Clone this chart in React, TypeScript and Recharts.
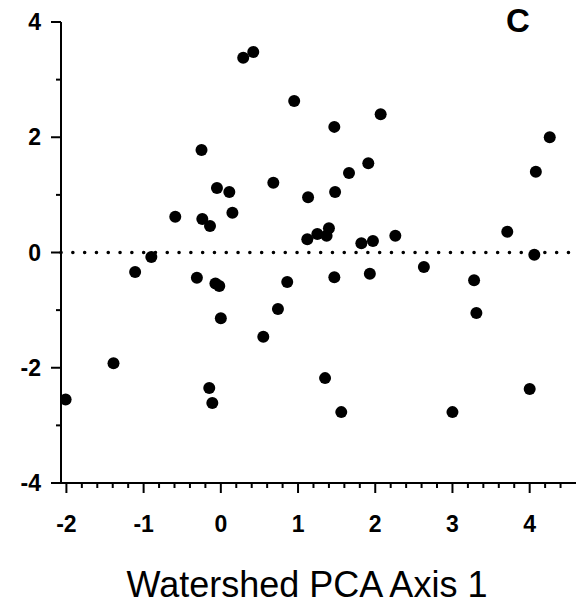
import React from 'react'
import { ScatterChart, Scatter, XAxis, YAxis, ReferenceLine } from 'recharts'

// PCA axis 1 (x) vs response (y)
const axis1 = [
  -2.01, -1.39, -1.11, -0.9, -0.59, -0.31, -0.25, -0.24, -0.14, -0.05,
  -0.07, -0.02, 0.0, 0.11, 0.15, -0.15, -0.11, 0.29, 0.42, 0.55,
  0.68, 0.74, 0.86, 0.95, 1.13, 1.12, 1.25, 1.37, 1.4, 1.47,
  1.48, 1.47, 1.35, 1.56, 1.66, 1.91, 1.82, 1.97, 1.93, 2.07,
  2.26, 2.63, 3.0, 3.28, 3.31, 3.71, 4.0, 4.06, 4.08, 4.26,
]
const values = [
  -2.55, -1.92, -0.34, -0.08, 0.62, -0.44, 1.78, 0.58, 0.46, 1.12,
  -0.54, -0.58, -1.14, 1.05, 0.69, -2.35, -2.61, 3.38, 3.48, -1.46,
  1.21, -0.98, -0.51, 2.63, 0.96, 0.23, 0.32, 0.29, 0.42, 2.18,
  1.05, -0.43, -2.18, -2.77, 1.38, 1.55, 0.16, 0.2, -0.37, 2.4,
  0.29, -0.25, -2.77, -0.48, -1.05, 0.36, -2.37, -0.04, 1.4, 2.0,
]

const xTicks = [
  -2, -1.8, -1.6, -1.4, -1.2, -1, -0.8, -0.6, -0.4, -0.2,
  0, 0.2, 0.4, 0.6, 0.8, 1, 1.2, 1.4, 1.6, 1.8,
  2, 2.2, 2.4, 2.6, 2.8, 3, 3.2, 3.4, 3.6, 3.8,
  4, 4.2, 4.4,
]
const yTicks = [-4, -3, -2, -1, 0, 1, 2, 3, 4]

const data = axis1.map((x, i) => ({ x, y: values[i] }))

const FONT = '"Liberation Sans", Arial, sans-serif'

const isWhole = (v: number) => Math.abs(v - Math.round(v)) < 1e-6

function XTick(props: any) {
  const { x, y, payload } = props
  const major = isWhole(payload.value)
  return (
    <g>
      <line x1={x} x2={x} y1={y} y2={y + (major ? 10 : 5)} stroke="#000" strokeWidth={2} />
      {major && (
        <text x={x} y={y + 49} textAnchor="middle" fontFamily={FONT} fontWeight="bold" fontSize={23} fill="#000">
          {Math.round(payload.value)}
        </text>
      )}
    </g>
  )
}

function YTick(props: any) {
  const { x, y, payload } = props
  const major = payload.value % 2 === 0
  return (
    <g>
      <line x1={x - (major ? 10 : 5)} x2={x} y1={y} y2={y} stroke="#000" strokeWidth={2} />
      {major && (
        <text x={x - 20} y={y + 8} textAnchor="end" fontFamily={FONT} fontWeight="bold" fontSize={23} fill="#000">
          {payload.value}
        </text>
      )}
    </g>
  )
}

export default function App() {
  return (
    <div style={{ position: 'absolute', left: 0, top: 0, width: 579, height: 604, background: '#fff' }}>
      <ScatterChart width={579} height={604} margin={{ top: 22, right: 3, left: 11, bottom: 81 }}>
        <XAxis
          type="number"
          dataKey="x"
          domain={[-2.07, 4.6]}
          allowDataOverflow
          ticks={xTicks}
          interval={0}
          height={40}
          tickSize={0}
          tickMargin={0}
          tickLine={false}
          axisLine={{ stroke: '#000', strokeWidth: 2 }}
          tick={<XTick />}
        />
        <YAxis
          type="number"
          dataKey="y"
          domain={[-4, 4]}
          allowDataOverflow
          ticks={yTicks}
          interval={0}
          width={50}
          tickSize={0}
          tickMargin={0}
          tickLine={false}
          axisLine={{ stroke: '#000', strokeWidth: 2 }}
          tick={<YTick />}
        />
        <ReferenceLine
          y={0}
          stroke="#000"
          strokeWidth={3.5}
          strokeDasharray="0.1 11.7"
          strokeLinecap="round"
        />
        <Scatter
          data={data}
          isAnimationActive={false}
          shape={(p: any) => <circle cx={p.cx} cy={p.cy} r={6} fill="#000" />}
        />
      </ScatterChart>
      <svg width={579} height={604} style={{ position: 'absolute', left: 0, top: 0, pointerEvents: 'none' }}>
        <text x={518} y={32} textAnchor="middle" fontFamily={FONT} fontWeight="bold" fontSize={33} fill="#000">
          C
        </text>
        <text x={307} y={597} textAnchor="middle" fontFamily={FONT} fontSize={36} fill="#000">
          Watershed PCA Axis 1
        </text>
      </svg>
    </div>
  )
}
